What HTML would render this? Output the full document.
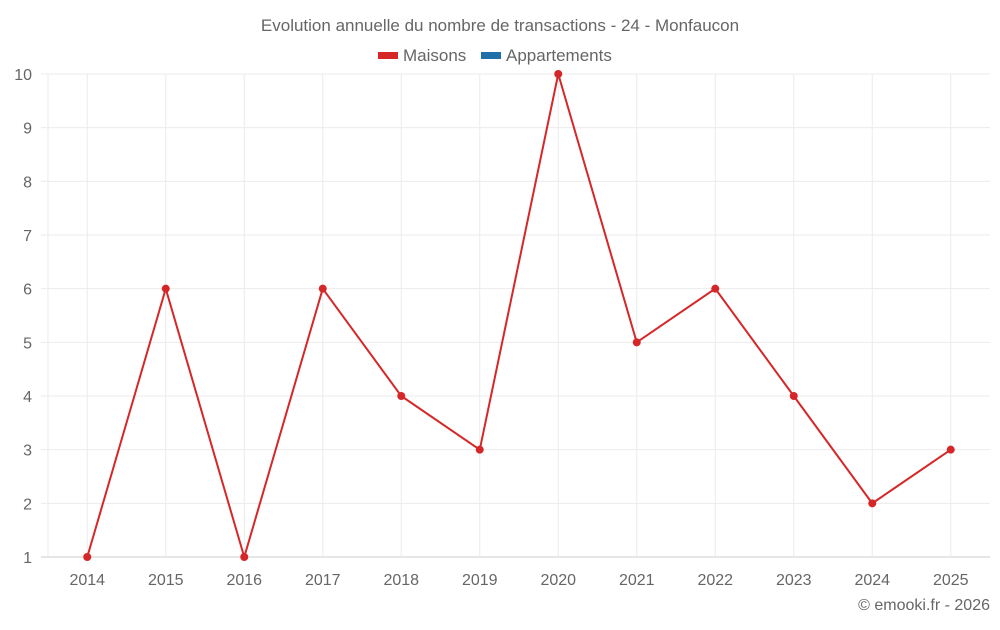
<!DOCTYPE html>
<html><head><meta charset="utf-8"><style>
body{margin:0;background:#fff;font-family:"Liberation Sans",sans-serif;}
svg text{font-family:"Liberation Sans",sans-serif;fill:#666;}
</style></head><body>
<svg id="chart" width="1000" height="625">
<text x="500" y="31" text-anchor="middle" font-size="17">Evolution annuelle du nombre de transactions - 24 - Monfaucon</text>
<g>
<rect x="378" y="52" width="20" height="7" fill="#d62728"/>
<text x="403" y="61" font-size="17">Maisons</text>
<rect x="481" y="52" width="20" height="7" fill="#1f6fa8"/>
<text x="506" y="61" font-size="17">Appartements</text>
</g>
<g id="grid"></g><g id="axes"></g><g id="series"></g>
<text x="990" y="610" text-anchor="end" font-size="16">© emooki.fr - 2026</text>
</svg>
<script>
const years=[2014,2015,2016,2017,2018,2019,2020,2021,2022,2023,2024,2025];
const maisons=[1,6,1,6,4,3,10,5,6,4,2,3];
const yTicks=[1,2,3,4,5,6,7,8,9,10];
const L=48,R=990,T=74,B=557,yMin=1,yMax=10;
const ns="http://www.w3.org/2000/svg";
const band=(R-L)/years.length;
const xs=i=>L+band*(i+0.5);
const ys=v=>B-(v-yMin)/(yMax-yMin)*(B-T);
function mk(tag,attrs,parent){const e=document.createElementNS(ns,tag);for(const k in attrs)e.setAttribute(k,attrs[k]);parent.appendChild(e);return e;}
const grid=document.getElementById('grid'),axes=document.getElementById('axes'),series=document.getElementById('series');
yTicks.forEach(t=>{
const l=mk('line',{x1:41,x2:R,y1:ys(t),y2:ys(t),stroke:t===yMin?'#ccc':'#ebebeb','stroke-width':1},grid);


const tx=mk('text',{x:32,y:ys(t)+6,'text-anchor':'end','font-size':16},axes);
tx.textContent=t;


});
const ax=mk('line',{x1:L,x2:L,y1:T,y2:B,stroke:'#ebebeb','stroke-width':1},grid);


years.forEach((y,i)=>{
const l=mk('line',{x1:xs(i),x2:xs(i),y1:T,y2:B,stroke:'#ebebeb','stroke-width':1},grid);


const tx=mk('text',{x:xs(i),y:585,'text-anchor':'middle','font-size':16},axes);
tx.textContent=y;


});
const line=mk('polyline',{points:maisons.map((v,i)=>xs(i)+','+ys(v)).join(' '),fill:'none',stroke:'#d62728','stroke-width':2},series);


maisons.forEach((v,i)=>{
const c=mk('circle',{cx:xs(i),cy:ys(v),r:4,fill:'#d62728'},series);


});
</script>
</body></html>
